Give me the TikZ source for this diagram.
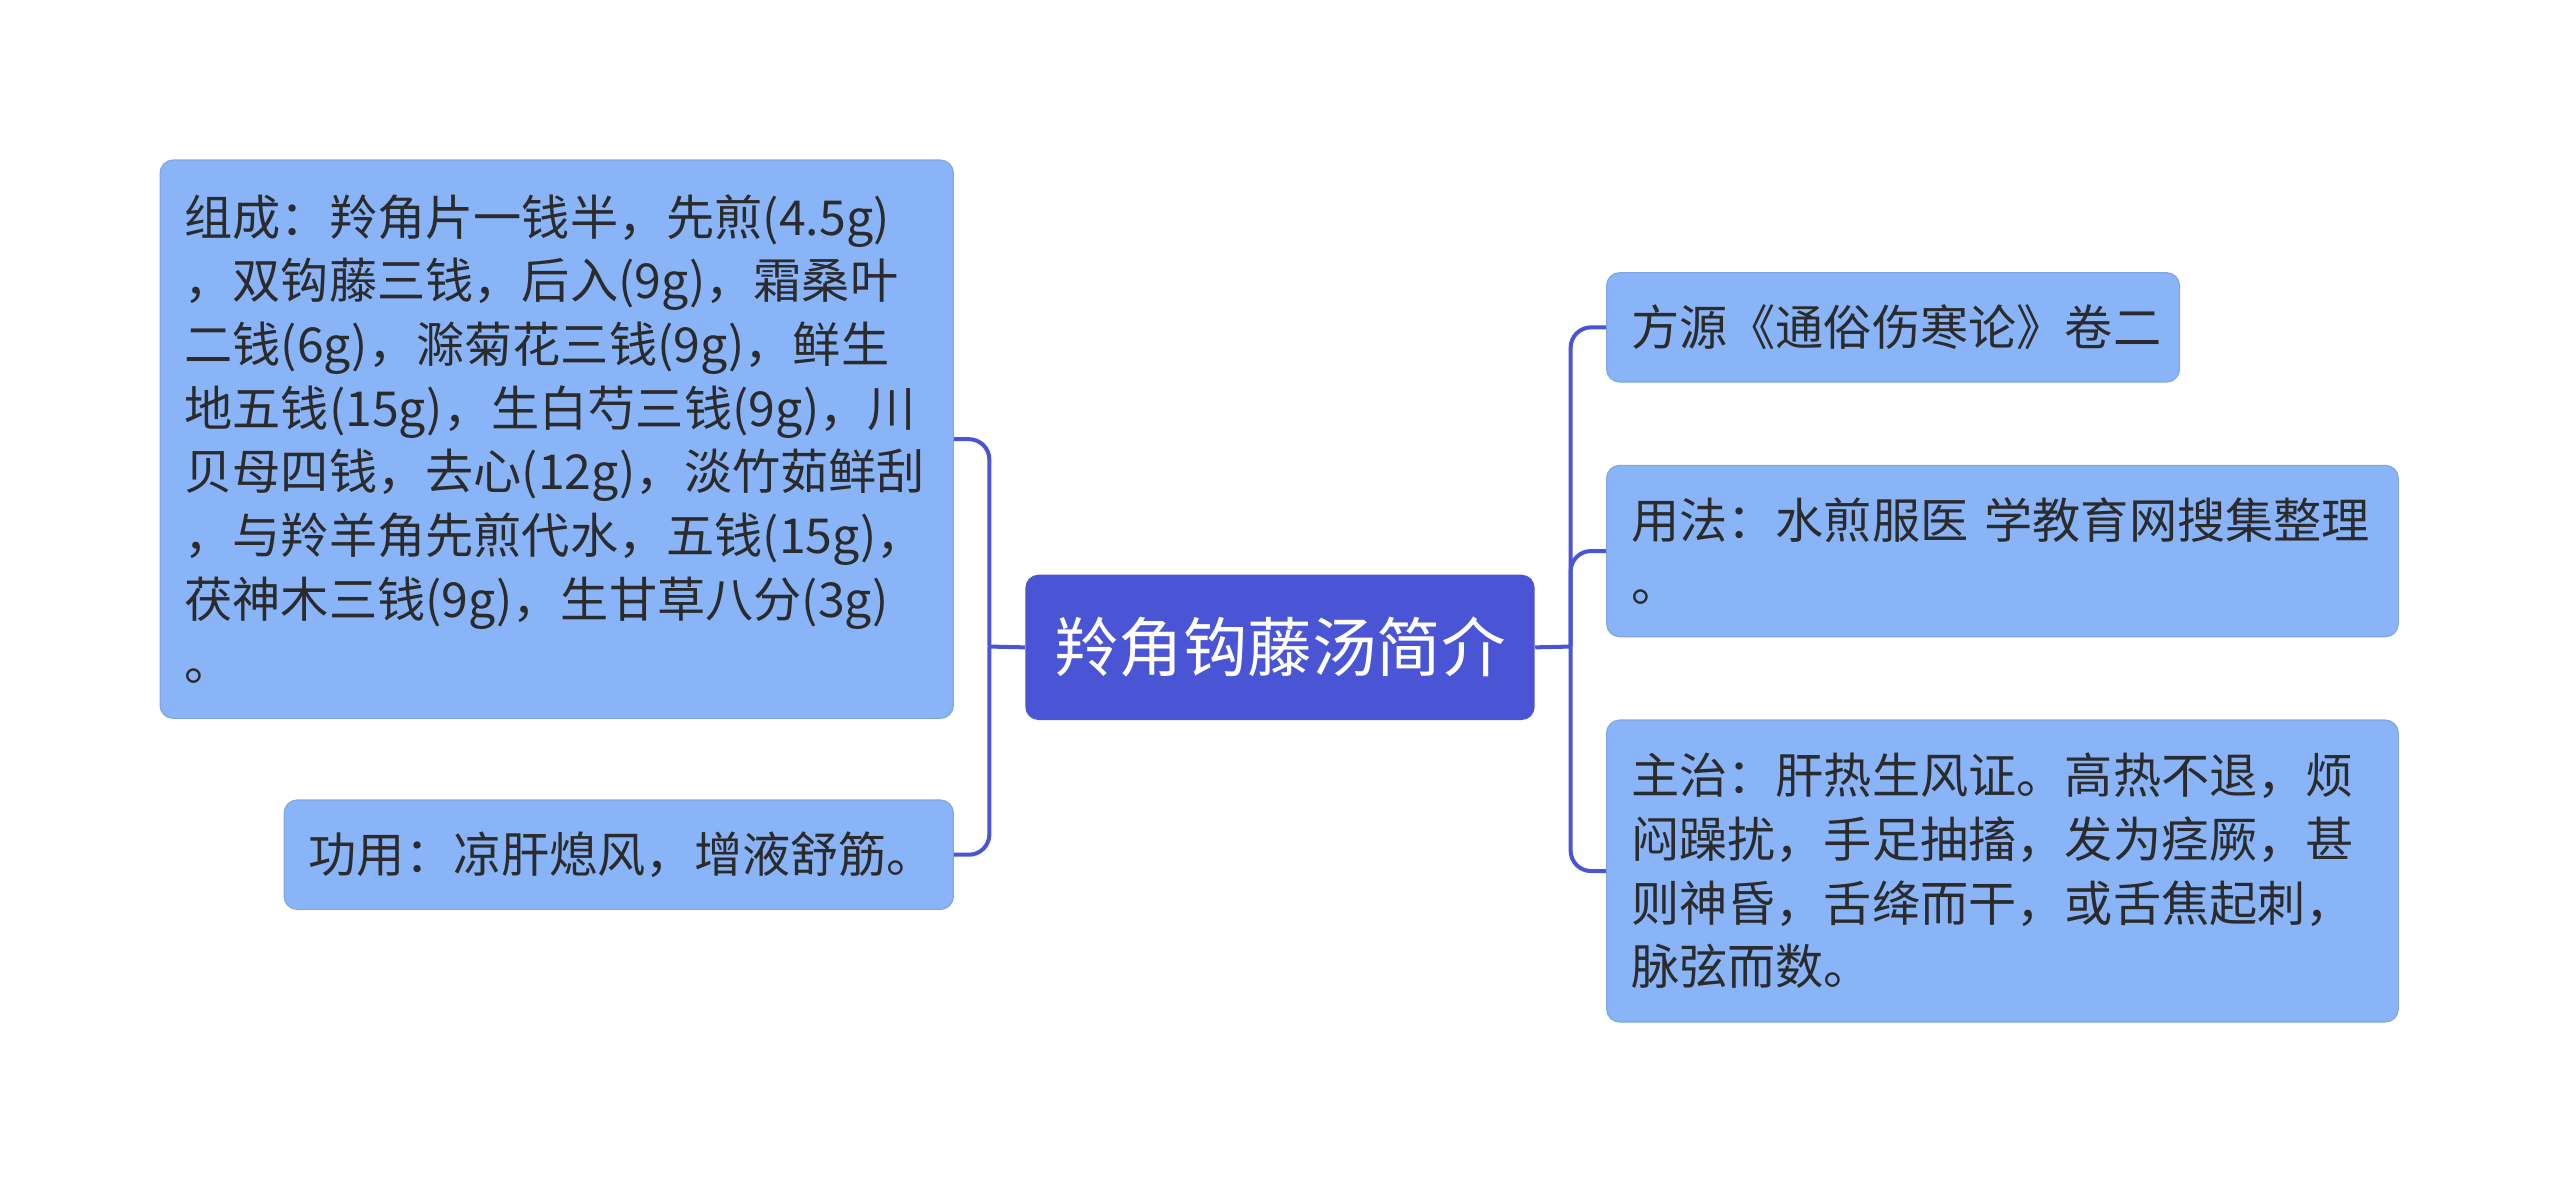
\documentclass[tikz,border=0pt]{standalone}
\usepackage{fontspec}
\setmainfont{Noto Sans CJK SC}
\usetikzlibrary{positioning}
\definecolor{topicblue}{HTML}{4A55D6}
\definecolor{leafblue}{HTML}{8AB4F8}
\definecolor{inktxt}{HTML}{2B2B2B}
\begin{document}
\begin{tikzpicture}[x=0.02cm,y=-0.02cm]
\tikzstyle{leaf}=[fill = leafblue, draw = leafblue!80!black!40!leafblue, rounded corners = 0.16cm, inner xsep = 0.3cm, align = left, text = inktxt, font = \fontsize{16.8}{22.2}\selectfont]
\tikzstyle{topic}=[fill = topicblue, rounded corners = 0.16cm, text = white, font = \fontsize{22.5}{28}\selectfont]
\tikzstyle{link}=[draw = topicblue, line width = 1.4pt, rounded corners = 0.25cm]
\useasboundingbox (0,0) rectangle (1568,725);

\node[topic, minimum width = 6.24cm, minimum height = 1.78cm] (main) at (784,396.5) {羚角钩藤汤简介};
\node[leaf, text width = 9.12cm, minimum height = 6.84cm] (comp) at (341,269) {组成：羚角片一钱半，先煎(4.5g)\\，双钩藤三钱，后入(9g)，霜桑叶\\二钱(6g)，滁菊花三钱(9g)，鲜生\\地五钱(15g)，生白芍三钱(9g)，川\\贝母四钱，去心(12g)，淡竹茹鲜刮\\，与羚羊角先煎代水，五钱(15g)，\\茯神木三钱(9g)，生甘草八分(3g)\\。};
\node[leaf, text width = 7.6cm, minimum height = 1.34cm] (func) at (379,523.5) {功用：凉肝熄风，增液舒筋。};
\node[leaf, text width = 6.42cm, minimum height = 1.34cm] (src) at (1159.5,200.5) {方源《通俗伤寒论》卷二};
\node[leaf, text width = 9.1cm, minimum height = 2.1cm] (use) at (1226.5,337.5) {用法：水煎服医 学教育网搜集整理\\。};
\node[leaf, text width = 9.1cm, minimum height = 3.7cm] (cure) at (1226.5,533.5) {主治：肝热生风证。高热不退，烦\\闷躁扰，手足抽搐，发为痉厥，甚\\则神昏，舌绛而干，或舌焦起刺，\\脉弦而数。};

\coordinate (lj) at (606,396);
\coordinate (rj) at (962,396);
\draw[link] (main.west) -- (lj);
\draw[link] (lj) |- (comp.east);
\draw[link] (lj) |- (func.east);
\draw[link] (main.east) -- (rj);
\draw[link] (rj) |- (src.west);
\draw[link] (rj) |- (use.west);
\draw[link] (rj) |- (cure.west);
\end{tikzpicture}
\end{document}
